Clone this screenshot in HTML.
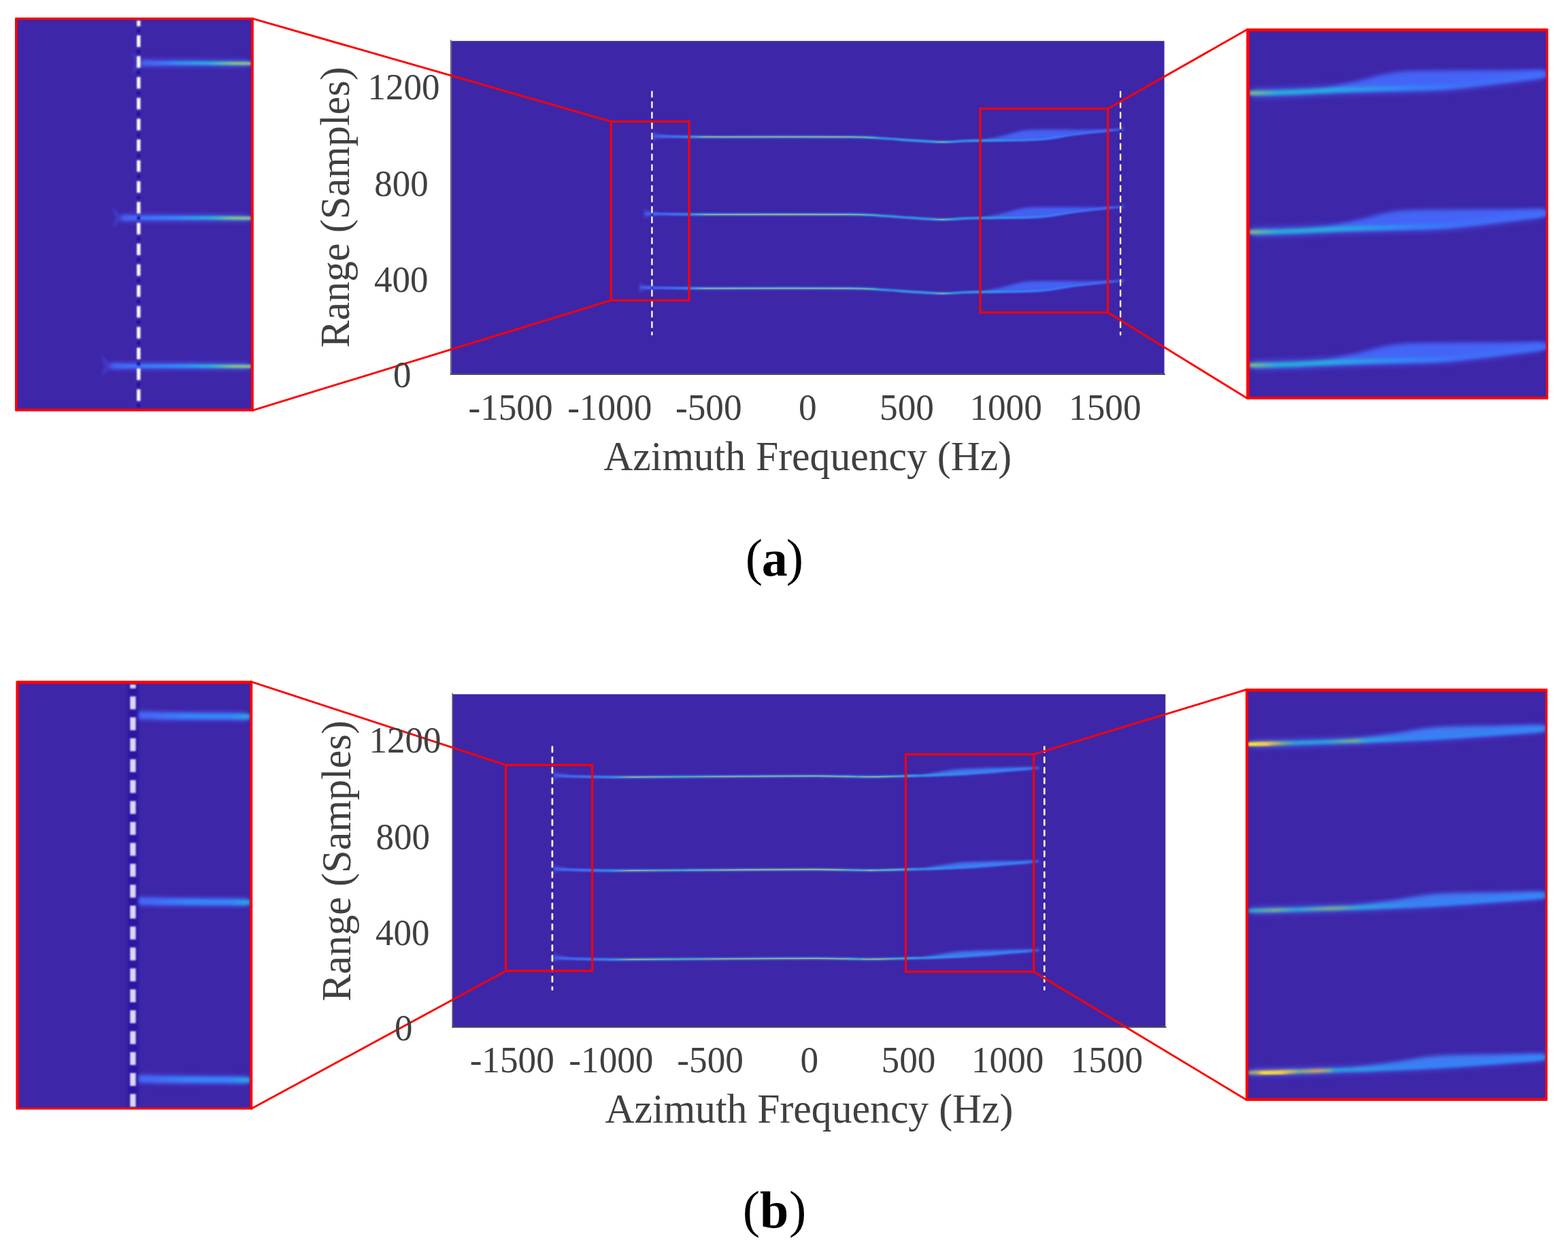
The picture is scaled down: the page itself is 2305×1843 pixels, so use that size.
<!DOCTYPE html>
<html lang="en"><head><meta charset="utf-8"><title>Figure</title>
<style>
html,body{margin:0;padding:0;background:#fff;}
body{width:2305px;height:1843px;overflow:hidden;}
svg{display:block;}
text{font-family:"Liberation Serif","DejaVu Serif",serif;}
.t{font-size:53.2px;fill:#404040;}
.l{font-size:59.7px;fill:#404040;}
.y{font-size:53px;fill:#404040;}
.c{font-size:76px;fill:#000;}
</style></head><body>
<svg xmlns="http://www.w3.org/2000/svg" width="2305" height="1843" viewBox="0 0 2305 1843">
<defs>
<filter id="b05" filterUnits="userSpaceOnUse" x="0" y="0" width="2305" height="1843"><feGaussianBlur stdDeviation="0.5"/></filter>
<filter id="b08" filterUnits="userSpaceOnUse" x="0" y="0" width="2305" height="1843"><feGaussianBlur stdDeviation="0.8"/></filter>
<filter id="b1" filterUnits="userSpaceOnUse" x="0" y="0" width="2305" height="1843"><feGaussianBlur stdDeviation="1.0"/></filter>
<filter id="b12" filterUnits="userSpaceOnUse" x="0" y="0" width="2305" height="1843"><feGaussianBlur stdDeviation="1.2"/></filter>
<filter id="b15" filterUnits="userSpaceOnUse" x="0" y="0" width="2305" height="1843"><feGaussianBlur stdDeviation="1.5"/></filter>
<filter id="b2" filterUnits="userSpaceOnUse" x="0" y="0" width="2305" height="1843"><feGaussianBlur stdDeviation="2.0"/></filter>
<filter id="b3" filterUnits="userSpaceOnUse" x="0" y="0" width="2305" height="1843"><feGaussianBlur stdDeviation="3.0"/></filter>
<filter id="b4" filterUnits="userSpaceOnUse" x="0" y="0" width="2305" height="1843"><feGaussianBlur stdDeviation="4.0"/></filter>
<clipPath id="cma"><rect x="663.5" y="60.2" width="1048.1" height="489.2" /></clipPath>
<linearGradient id="g1" gradientUnits="userSpaceOnUse" x1="960" y1="0" x2="1652" y2="0"><stop offset="0" stop-color="#4a66f8" stop-opacity="0"/><stop offset="0.02" stop-color="#4a66f8" stop-opacity="1"/><stop offset="0.97" stop-color="#4a66f8" stop-opacity="1"/><stop offset="1" stop-color="#4a66f8" stop-opacity="0"/></linearGradient>
<linearGradient id="g2" gradientUnits="userSpaceOnUse" x1="960" y1="0" x2="1652" y2="0"><stop offset="0" stop-color="#3f6ef8" stop-opacity="0.5"/><stop offset="0.022" stop-color="#3f6ef8"/><stop offset="0.058" stop-color="#2f8cf7"/><stop offset="0.094" stop-color="#22b4d8"/><stop offset="0.491" stop-color="#22b4d8"/><stop offset="0.708" stop-color="#22b4d8"/><stop offset="0.824" stop-color="#2f8cf7"/><stop offset="0.925" stop-color="#3f6ef8"/><stop offset="1" stop-color="#3f6ef8" stop-opacity="0.5"/></linearGradient>
<linearGradient id="g3" gradientUnits="userSpaceOnUse" x1="960" y1="0" x2="1652" y2="0"><stop offset="0" stop-color="#f0b94a" stop-opacity="0"/><stop offset="0.079" stop-color="#f0b94a" stop-opacity="0"/><stop offset="0.116" stop-color="#f0b94a" stop-opacity="1"/><stop offset="0.405" stop-color="#f0b94a" stop-opacity="1"/><stop offset="0.455" stop-color="#7fc77c" stop-opacity="1"/><stop offset="0.491" stop-color="#7fc77c" stop-opacity="0"/><stop offset="0.585" stop-color="#7fc77c" stop-opacity="0"/><stop offset="0.614" stop-color="#f0b94a" stop-opacity="0.9"/><stop offset="0.643" stop-color="#7fc77c" stop-opacity="0"/><stop offset="1" stop-color="#7fc77c" stop-opacity="0"/></linearGradient>
<linearGradient id="g4" gradientUnits="userSpaceOnUse" x1="948" y1="0" x2="1652" y2="0"><stop offset="0" stop-color="#4a66f8" stop-opacity="0"/><stop offset="0.02" stop-color="#4a66f8" stop-opacity="1"/><stop offset="0.97" stop-color="#4a66f8" stop-opacity="1"/><stop offset="1" stop-color="#4a66f8" stop-opacity="0"/></linearGradient>
<linearGradient id="g5" gradientUnits="userSpaceOnUse" x1="948" y1="0" x2="1652" y2="0"><stop offset="0" stop-color="#3f6ef8" stop-opacity="0.5"/><stop offset="0.038" stop-color="#3f6ef8"/><stop offset="0.074" stop-color="#2f8cf7"/><stop offset="0.109" stop-color="#22b4d8"/><stop offset="0.5" stop-color="#22b4d8"/><stop offset="0.713" stop-color="#22b4d8"/><stop offset="0.827" stop-color="#2f8cf7"/><stop offset="0.926" stop-color="#3f6ef8"/><stop offset="1" stop-color="#3f6ef8" stop-opacity="0.5"/></linearGradient>
<linearGradient id="g6" gradientUnits="userSpaceOnUse" x1="948" y1="0" x2="1652" y2="0"><stop offset="0" stop-color="#f0b94a" stop-opacity="0"/><stop offset="0.095" stop-color="#f0b94a" stop-opacity="0"/><stop offset="0.131" stop-color="#f0b94a" stop-opacity="1"/><stop offset="0.415" stop-color="#f0b94a" stop-opacity="1"/><stop offset="0.464" stop-color="#7fc77c" stop-opacity="1"/><stop offset="0.5" stop-color="#7fc77c" stop-opacity="0"/><stop offset="0.592" stop-color="#7fc77c" stop-opacity="0"/><stop offset="0.621" stop-color="#f0b94a" stop-opacity="0.9"/><stop offset="0.649" stop-color="#7fc77c" stop-opacity="0"/><stop offset="1" stop-color="#7fc77c" stop-opacity="0"/></linearGradient>
<linearGradient id="g7" gradientUnits="userSpaceOnUse" x1="941" y1="0" x2="1652" y2="0"><stop offset="0" stop-color="#4a66f8" stop-opacity="0"/><stop offset="0.02" stop-color="#4a66f8" stop-opacity="1"/><stop offset="0.97" stop-color="#4a66f8" stop-opacity="1"/><stop offset="1" stop-color="#4a66f8" stop-opacity="0"/></linearGradient>
<linearGradient id="g8" gradientUnits="userSpaceOnUse" x1="941" y1="0" x2="1652" y2="0"><stop offset="0" stop-color="#3f6ef8" stop-opacity="0.5"/><stop offset="0.048" stop-color="#3f6ef8"/><stop offset="0.083" stop-color="#2f8cf7"/><stop offset="0.118" stop-color="#22b4d8"/><stop offset="0.505" stop-color="#22b4d8"/><stop offset="0.716" stop-color="#22b4d8"/><stop offset="0.828" stop-color="#2f8cf7"/><stop offset="0.927" stop-color="#3f6ef8"/><stop offset="1" stop-color="#3f6ef8" stop-opacity="0.5"/></linearGradient>
<linearGradient id="g9" gradientUnits="userSpaceOnUse" x1="941" y1="0" x2="1652" y2="0"><stop offset="0" stop-color="#f0b94a" stop-opacity="0"/><stop offset="0.104" stop-color="#f0b94a" stop-opacity="0"/><stop offset="0.139" stop-color="#f0b94a" stop-opacity="1"/><stop offset="0.421" stop-color="#f0b94a" stop-opacity="1"/><stop offset="0.47" stop-color="#7fc77c" stop-opacity="1"/><stop offset="0.505" stop-color="#7fc77c" stop-opacity="0"/><stop offset="0.596" stop-color="#7fc77c" stop-opacity="0"/><stop offset="0.624" stop-color="#f0b94a" stop-opacity="0.9"/><stop offset="0.653" stop-color="#7fc77c" stop-opacity="0"/><stop offset="1" stop-color="#7fc77c" stop-opacity="0"/></linearGradient>
<clipPath id="clinseta"><rect x="25.8" y="29.2" width="343.2" height="571.5" /></clipPath>
<linearGradient id="g10" gradientUnits="userSpaceOnUse" x1="207" y1="0" x2="369" y2="0"><stop offset="0" stop-color="#4a66f8" stop-opacity="0"/><stop offset="0.02" stop-color="#4a66f8" stop-opacity="1"/><stop offset="0.97" stop-color="#4a66f8" stop-opacity="1"/><stop offset="1" stop-color="#4a66f8" stop-opacity="0"/></linearGradient>
<linearGradient id="g11" gradientUnits="userSpaceOnUse" x1="207" y1="0" x2="369" y2="0"><stop offset="0" stop-color="#3f6ef8" stop-opacity="0.3"/><stop offset="0.154" stop-color="#3f6ef8"/><stop offset="0.321" stop-color="#2f8cf7"/><stop offset="0.63" stop-color="#22b4d8"/><stop offset="0.846" stop-color="#7fc77c"/><stop offset="1" stop-color="#86c190"/></linearGradient>
<linearGradient id="g12" gradientUnits="userSpaceOnUse" x1="178" y1="0" x2="369" y2="0"><stop offset="0" stop-color="#4a66f8" stop-opacity="0"/><stop offset="0.02" stop-color="#4a66f8" stop-opacity="1"/><stop offset="0.97" stop-color="#4a66f8" stop-opacity="1"/><stop offset="1" stop-color="#4a66f8" stop-opacity="0"/></linearGradient>
<linearGradient id="g13" gradientUnits="userSpaceOnUse" x1="178" y1="0" x2="369" y2="0"><stop offset="0" stop-color="#3f6ef8" stop-opacity="0.3"/><stop offset="0.131" stop-color="#3f6ef8"/><stop offset="0.424" stop-color="#2f8cf7"/><stop offset="0.686" stop-color="#22b4d8"/><stop offset="0.869" stop-color="#7fc77c"/><stop offset="1" stop-color="#86c190"/></linearGradient>
<linearGradient id="g14" gradientUnits="userSpaceOnUse" x1="162" y1="0" x2="369" y2="0"><stop offset="0" stop-color="#4a66f8" stop-opacity="0"/><stop offset="0.02" stop-color="#4a66f8" stop-opacity="1"/><stop offset="0.97" stop-color="#4a66f8" stop-opacity="1"/><stop offset="1" stop-color="#4a66f8" stop-opacity="0"/></linearGradient>
<linearGradient id="g15" gradientUnits="userSpaceOnUse" x1="162" y1="0" x2="369" y2="0"><stop offset="0" stop-color="#3f6ef8" stop-opacity="0.3"/><stop offset="0.121" stop-color="#3f6ef8"/><stop offset="0.469" stop-color="#2f8cf7"/><stop offset="0.71" stop-color="#22b4d8"/><stop offset="0.879" stop-color="#7fc77c"/><stop offset="1" stop-color="#86c190"/></linearGradient>
<clipPath id="crinseta"><rect x="1836.8" y="46.2" width="435.8" height="536.8" /></clipPath>
<linearGradient id="g16" gradientUnits="userSpaceOnUse" x1="1836.8" y1="0" x2="2272.6" y2="0"><stop offset="0" stop-color="#4a66f8" stop-opacity="0"/><stop offset="0.02" stop-color="#4a66f8" stop-opacity="1"/><stop offset="0.97" stop-color="#4a66f8" stop-opacity="1"/><stop offset="1" stop-color="#4a66f8" stop-opacity="0"/></linearGradient>
<linearGradient id="g17" gradientUnits="userSpaceOnUse" x1="1836.8" y1="0" x2="2272.6" y2="0"><stop offset="0" stop-color="#7fc77c"/><stop offset="0.092" stop-color="#22b4d8"/><stop offset="0.283" stop-color="#22b4d8"/><stop offset="0.512" stop-color="#2f8cf7"/><stop offset="0.719" stop-color="#3f6ef8"/><stop offset="1" stop-color="#3f6ef8"/></linearGradient>
<linearGradient id="g18" gradientUnits="userSpaceOnUse" x1="1836.8" y1="0" x2="2272.6" y2="0"><stop offset="0" stop-color="#4a66f8" stop-opacity="0"/><stop offset="0.02" stop-color="#4a66f8" stop-opacity="1"/><stop offset="0.97" stop-color="#4a66f8" stop-opacity="1"/><stop offset="1" stop-color="#4a66f8" stop-opacity="0"/></linearGradient>
<linearGradient id="g19" gradientUnits="userSpaceOnUse" x1="1836.8" y1="0" x2="2272.6" y2="0"><stop offset="0" stop-color="#7fc77c"/><stop offset="0.092" stop-color="#22b4d8"/><stop offset="0.283" stop-color="#22b4d8"/><stop offset="0.512" stop-color="#2f8cf7"/><stop offset="0.719" stop-color="#3f6ef8"/><stop offset="1" stop-color="#3f6ef8"/></linearGradient>
<linearGradient id="g20" gradientUnits="userSpaceOnUse" x1="1836.8" y1="0" x2="2272.6" y2="0"><stop offset="0" stop-color="#4a66f8" stop-opacity="0"/><stop offset="0.02" stop-color="#4a66f8" stop-opacity="1"/><stop offset="0.97" stop-color="#4a66f8" stop-opacity="1"/><stop offset="1" stop-color="#4a66f8" stop-opacity="0"/></linearGradient>
<linearGradient id="g21" gradientUnits="userSpaceOnUse" x1="1836.8" y1="0" x2="2272.6" y2="0"><stop offset="0" stop-color="#7fc77c"/><stop offset="0.092" stop-color="#22b4d8"/><stop offset="0.283" stop-color="#22b4d8"/><stop offset="0.512" stop-color="#2f8cf7"/><stop offset="0.719" stop-color="#3f6ef8"/><stop offset="1" stop-color="#3f6ef8"/></linearGradient>
<clipPath id="cmb"><rect x="666" y="1020.3" width="1047.3" height="488.6" /></clipPath>
<linearGradient id="g22" gradientUnits="userSpaceOnUse" x1="814" y1="0" x2="1527" y2="0"><stop offset="0" stop-color="#4a66f8" stop-opacity="0"/><stop offset="0.02" stop-color="#4a66f8" stop-opacity="1"/><stop offset="0.97" stop-color="#4a66f8" stop-opacity="1"/><stop offset="1" stop-color="#4a66f8" stop-opacity="0"/></linearGradient>
<linearGradient id="g23" gradientUnits="userSpaceOnUse" x1="814" y1="0" x2="1527" y2="0"><stop offset="0" stop-color="#3f6ef8" stop-opacity="0.5"/><stop offset="0.022" stop-color="#3f6ef8"/><stop offset="0.079" stop-color="#2f8cf7"/><stop offset="0.128" stop-color="#22b4d8"/><stop offset="0.766" stop-color="#22b4d8"/><stop offset="0.85" stop-color="#2f8cf7"/><stop offset="1" stop-color="#2f8cf7" stop-opacity="0.7"/></linearGradient>
<linearGradient id="g24" gradientUnits="userSpaceOnUse" x1="814" y1="0" x2="1527" y2="0"><stop offset="0" stop-color="#f0b94a" stop-opacity="0"/><stop offset="0.121" stop-color="#f0b94a" stop-opacity="0"/><stop offset="0.163" stop-color="#f0b94a" stop-opacity="1"/><stop offset="0.261" stop-color="#7fc77c" stop-opacity="0.6"/><stop offset="0.345" stop-color="#f0b94a" stop-opacity="1"/><stop offset="0.583" stop-color="#f0b94a" stop-opacity="1"/><stop offset="0.628" stop-color="#7fc77c" stop-opacity="0.7"/><stop offset="0.654" stop-color="#f0b94a" stop-opacity="1"/><stop offset="0.71" stop-color="#7fc77c" stop-opacity="0.8"/><stop offset="0.752" stop-color="#7fc77c" stop-opacity="0"/><stop offset="1" stop-color="#7fc77c" stop-opacity="0"/></linearGradient>
<linearGradient id="g25" gradientUnits="userSpaceOnUse" x1="814" y1="0" x2="1527" y2="0"><stop offset="0" stop-color="#4a66f8" stop-opacity="0"/><stop offset="0.02" stop-color="#4a66f8" stop-opacity="1"/><stop offset="0.97" stop-color="#4a66f8" stop-opacity="1"/><stop offset="1" stop-color="#4a66f8" stop-opacity="0"/></linearGradient>
<linearGradient id="g26" gradientUnits="userSpaceOnUse" x1="814" y1="0" x2="1527" y2="0"><stop offset="0" stop-color="#3f6ef8" stop-opacity="0.5"/><stop offset="0.022" stop-color="#3f6ef8"/><stop offset="0.079" stop-color="#2f8cf7"/><stop offset="0.128" stop-color="#22b4d8"/><stop offset="0.766" stop-color="#22b4d8"/><stop offset="0.85" stop-color="#2f8cf7"/><stop offset="1" stop-color="#2f8cf7" stop-opacity="0.7"/></linearGradient>
<linearGradient id="g27" gradientUnits="userSpaceOnUse" x1="814" y1="0" x2="1527" y2="0"><stop offset="0" stop-color="#f0b94a" stop-opacity="0"/><stop offset="0.121" stop-color="#f0b94a" stop-opacity="0"/><stop offset="0.163" stop-color="#f0b94a" stop-opacity="1"/><stop offset="0.261" stop-color="#7fc77c" stop-opacity="0.6"/><stop offset="0.345" stop-color="#f0b94a" stop-opacity="1"/><stop offset="0.583" stop-color="#f0b94a" stop-opacity="1"/><stop offset="0.628" stop-color="#7fc77c" stop-opacity="0.7"/><stop offset="0.654" stop-color="#f0b94a" stop-opacity="1"/><stop offset="0.71" stop-color="#7fc77c" stop-opacity="0.8"/><stop offset="0.752" stop-color="#7fc77c" stop-opacity="0"/><stop offset="1" stop-color="#7fc77c" stop-opacity="0"/></linearGradient>
<linearGradient id="g28" gradientUnits="userSpaceOnUse" x1="814" y1="0" x2="1527" y2="0"><stop offset="0" stop-color="#4a66f8" stop-opacity="0"/><stop offset="0.02" stop-color="#4a66f8" stop-opacity="1"/><stop offset="0.97" stop-color="#4a66f8" stop-opacity="1"/><stop offset="1" stop-color="#4a66f8" stop-opacity="0"/></linearGradient>
<linearGradient id="g29" gradientUnits="userSpaceOnUse" x1="814" y1="0" x2="1527" y2="0"><stop offset="0" stop-color="#3f6ef8" stop-opacity="0.5"/><stop offset="0.022" stop-color="#3f6ef8"/><stop offset="0.079" stop-color="#2f8cf7"/><stop offset="0.128" stop-color="#22b4d8"/><stop offset="0.766" stop-color="#22b4d8"/><stop offset="0.85" stop-color="#2f8cf7"/><stop offset="1" stop-color="#2f8cf7" stop-opacity="0.7"/></linearGradient>
<linearGradient id="g30" gradientUnits="userSpaceOnUse" x1="814" y1="0" x2="1527" y2="0"><stop offset="0" stop-color="#f0b94a" stop-opacity="0"/><stop offset="0.121" stop-color="#f0b94a" stop-opacity="0"/><stop offset="0.163" stop-color="#f0b94a" stop-opacity="1"/><stop offset="0.261" stop-color="#7fc77c" stop-opacity="0.6"/><stop offset="0.345" stop-color="#f0b94a" stop-opacity="1"/><stop offset="0.583" stop-color="#f0b94a" stop-opacity="1"/><stop offset="0.628" stop-color="#7fc77c" stop-opacity="0.7"/><stop offset="0.654" stop-color="#f0b94a" stop-opacity="1"/><stop offset="0.71" stop-color="#7fc77c" stop-opacity="0.8"/><stop offset="0.752" stop-color="#7fc77c" stop-opacity="0"/><stop offset="1" stop-color="#7fc77c" stop-opacity="0"/></linearGradient>
<clipPath id="clinsetb"><rect x="27.8" y="1005.1" width="339.5" height="622.5" /></clipPath>
<linearGradient id="g31" gradientUnits="userSpaceOnUse" x1="200" y1="0" x2="367.3" y2="0"><stop offset="0" stop-color="#4a66f8" stop-opacity="0"/><stop offset="0.02" stop-color="#4a66f8" stop-opacity="1"/><stop offset="0.97" stop-color="#4a66f8" stop-opacity="1"/><stop offset="1" stop-color="#4a66f8" stop-opacity="0"/></linearGradient>
<linearGradient id="g32" gradientUnits="userSpaceOnUse" x1="200" y1="0" x2="367.3" y2="0"><stop offset="0" stop-color="#3f6ef8" stop-opacity="0.3"/><stop offset="0.179" stop-color="#3f6ef8"/><stop offset="0.462" stop-color="#2f8cf7"/><stop offset="0.821" stop-color="#2f8cf7"/><stop offset="1" stop-color="#22b4d8"/></linearGradient>
<linearGradient id="g33" gradientUnits="userSpaceOnUse" x1="200" y1="0" x2="367.3" y2="0"><stop offset="0" stop-color="#4a66f8" stop-opacity="0"/><stop offset="0.02" stop-color="#4a66f8" stop-opacity="1"/><stop offset="0.97" stop-color="#4a66f8" stop-opacity="1"/><stop offset="1" stop-color="#4a66f8" stop-opacity="0"/></linearGradient>
<linearGradient id="g34" gradientUnits="userSpaceOnUse" x1="200" y1="0" x2="367.3" y2="0"><stop offset="0" stop-color="#3f6ef8" stop-opacity="0.3"/><stop offset="0.179" stop-color="#3f6ef8"/><stop offset="0.462" stop-color="#2f8cf7"/><stop offset="0.821" stop-color="#2f8cf7"/><stop offset="1" stop-color="#22b4d8"/></linearGradient>
<linearGradient id="g35" gradientUnits="userSpaceOnUse" x1="200" y1="0" x2="367.3" y2="0"><stop offset="0" stop-color="#4a66f8" stop-opacity="0"/><stop offset="0.02" stop-color="#4a66f8" stop-opacity="1"/><stop offset="0.97" stop-color="#4a66f8" stop-opacity="1"/><stop offset="1" stop-color="#4a66f8" stop-opacity="0"/></linearGradient>
<linearGradient id="g36" gradientUnits="userSpaceOnUse" x1="200" y1="0" x2="367.3" y2="0"><stop offset="0" stop-color="#3f6ef8" stop-opacity="0.3"/><stop offset="0.179" stop-color="#3f6ef8"/><stop offset="0.462" stop-color="#2f8cf7"/><stop offset="0.821" stop-color="#2f8cf7"/><stop offset="1" stop-color="#22b4d8"/></linearGradient>
<clipPath id="crinsetb"><rect x="1835.1" y="1016.7" width="436.5" height="597" /></clipPath>
<linearGradient id="g37" gradientUnits="userSpaceOnUse" x1="1835.1" y1="0" x2="2271.6" y2="0"><stop offset="0" stop-color="#4a66f8" stop-opacity="0"/><stop offset="0.02" stop-color="#4a66f8" stop-opacity="1"/><stop offset="0.97" stop-color="#4a66f8" stop-opacity="1"/><stop offset="1" stop-color="#4a66f8" stop-opacity="0"/></linearGradient>
<linearGradient id="g38" gradientUnits="userSpaceOnUse" x1="1835.1" y1="0" x2="2271.6" y2="0"><stop offset="0" stop-color="#f5e03a"/><stop offset="0.08" stop-color="#f5e03a"/><stop offset="0.115" stop-color="#7fc77c"/><stop offset="0.16" stop-color="#22b4d8"/><stop offset="0.263" stop-color="#22b4d8"/><stop offset="0.355" stop-color="#7fc77c"/><stop offset="0.401" stop-color="#22b4d8"/><stop offset="0.561" stop-color="#2f8cf7"/><stop offset="0.836" stop-color="#2f8cf7"/><stop offset="1" stop-color="#2f8cf7"/></linearGradient>
<linearGradient id="g39" gradientUnits="userSpaceOnUse" x1="1835.1" y1="0" x2="1871.1" y2="0"><stop offset="0" stop-color="#f6e13a" stop-opacity="1"/><stop offset="0.2" stop-color="#f6e13a" stop-opacity="1"/><stop offset="0.75" stop-color="#f3c94a" stop-opacity="1"/><stop offset="1" stop-color="#f0b94a" stop-opacity="0"/></linearGradient>
<linearGradient id="g40" gradientUnits="userSpaceOnUse" x1="1835.1" y1="0" x2="2271.6" y2="0"><stop offset="0" stop-color="#4a66f8" stop-opacity="0"/><stop offset="0.02" stop-color="#4a66f8" stop-opacity="1"/><stop offset="0.97" stop-color="#4a66f8" stop-opacity="1"/><stop offset="1" stop-color="#4a66f8" stop-opacity="0"/></linearGradient>
<linearGradient id="g41" gradientUnits="userSpaceOnUse" x1="1835.1" y1="0" x2="2271.6" y2="0"><stop offset="0" stop-color="#22b4d8"/><stop offset="0.092" stop-color="#7fc77c"/><stop offset="0.16" stop-color="#22b4d8"/><stop offset="0.286" stop-color="#7fc77c"/><stop offset="0.378" stop-color="#22b4d8"/><stop offset="0.561" stop-color="#2f8cf7"/><stop offset="0.836" stop-color="#2f8cf7"/><stop offset="1" stop-color="#2f8cf7"/></linearGradient>
<linearGradient id="g42" gradientUnits="userSpaceOnUse" x1="1835.1" y1="0" x2="2271.6" y2="0"><stop offset="0" stop-color="#4a66f8" stop-opacity="0"/><stop offset="0.02" stop-color="#4a66f8" stop-opacity="1"/><stop offset="0.97" stop-color="#4a66f8" stop-opacity="1"/><stop offset="1" stop-color="#4a66f8" stop-opacity="0"/></linearGradient>
<linearGradient id="g43" gradientUnits="userSpaceOnUse" x1="1835.1" y1="0" x2="2271.6" y2="0"><stop offset="0" stop-color="#7fc77c"/><stop offset="0.034" stop-color="#f0b94a"/><stop offset="0.137" stop-color="#f5e03a"/><stop offset="0.172" stop-color="#7fc77c"/><stop offset="0.229" stop-color="#f0b94a"/><stop offset="0.275" stop-color="#7fc77c"/><stop offset="0.286" stop-color="#22b4d8"/><stop offset="0.561" stop-color="#2f8cf7"/><stop offset="0.836" stop-color="#2f8cf7"/><stop offset="1" stop-color="#2f8cf7"/></linearGradient>
<linearGradient id="g44" gradientUnits="userSpaceOnUse" x1="1847.1" y1="0" x2="1897.1" y2="0"><stop offset="0" stop-color="#f6e13a" stop-opacity="0"/><stop offset="0.2" stop-color="#f6e13a" stop-opacity="1"/><stop offset="0.75" stop-color="#f3c94a" stop-opacity="1"/><stop offset="1" stop-color="#f0b94a" stop-opacity="0"/></linearGradient>
</defs>
<rect width="2305" height="1843" fill="#fff"/>
<g id="panel-a">
<rect x="663.5" y="60.2" width="1048.1" height="489.2" fill="#3E26A8"/>
<g clip-path="url(#cma)">
<path d="M959 193.2 C960.3 193.8 963 196 966.7 197 C970.4 198.1 978.6 199 981 199.4 L981 201 C978.6 201.4 970.4 202.3 966.7 203.3 C963 204.4 960.3 206.6 959 207.2 Z" fill="#4a62f4" opacity="0.6" filter="url(#b2)"/>
<path d="M960 200.2 C966.7 200.3 983.3 200.8 1000 201 C1016.7 201.2 1018.3 201.2 1060 201.3 C1101.7 201.4 1210 200.9 1250 201.3 C1290 201.7 1285 202.7 1300 203.5 C1315 204.3 1325.8 205.4 1340 206.3 C1354.2 207.2 1371.7 208.6 1385 208.7 C1398.3 208.8 1409.2 207.4 1420 207 C1430.8 206.6 1432 206.7 1450 206.3 C1468 205.9 1506.3 206.1 1528 204.5 C1549.7 202.9 1563 199.2 1580 197 C1597 194.8 1618 192.8 1630 191.6 C1642 190.4 1648.3 190.1 1652 189.8" fill="none" stroke="url(#g1)" stroke-width="3.2" filter="url(#b15)" opacity="0.9"/>
<path d="M1450 205 C1455 203.8 1470 200.3 1480 198 C1490 195.7 1496.7 192.6 1510 191.3 C1523.3 190.1 1545 190.6 1560 190.5 C1575 190.4 1588.3 190.7 1600 190.8 C1611.7 190.9 1625 191 1630 191 L1630 192.2 C1625.8 192.5 1614.2 193 1605 194 C1595.8 195 1587.8 196.2 1575 198 C1562.2 199.8 1548.8 203.6 1528 205 C1507.2 206.4 1463 206.2 1450 206.5 Z" fill="#4468fa" filter="url(#b2)" opacity="0.9"/>
<path d="M960 200.2 C966.7 200.3 983.3 200.8 1000 201 C1016.7 201.2 1018.3 201.2 1060 201.3 C1101.7 201.4 1210 200.9 1250 201.3 C1290 201.7 1285 202.7 1300 203.5 C1315 204.3 1325.8 205.4 1340 206.3 C1354.2 207.2 1371.7 208.6 1385 208.7 C1398.3 208.8 1409.2 207.4 1420 207 C1430.8 206.6 1432 206.7 1450 206.3 C1468 205.9 1506.3 206.1 1528 204.5 C1549.7 202.9 1563 199.2 1580 197 C1597 194.8 1618 192.8 1630 191.6 C1642 190.4 1648.3 190.1 1652 189.8" fill="none" stroke="url(#g2)" stroke-width="2.2" filter="url(#b08)"/>
<path d="M960 200.2 C966.7 200.3 983.3 200.8 1000 201 C1016.7 201.2 1018.3 201.2 1060 201.3 C1101.7 201.4 1210 200.9 1250 201.3 C1290 201.7 1285 202.7 1300 203.5 C1315 204.3 1325.8 205.4 1340 206.3 C1354.2 207.2 1371.7 208.6 1385 208.7 C1398.3 208.8 1409.2 207.4 1420 207 C1430.8 206.6 1432 206.7 1450 206.3 C1468 205.9 1506.3 206.1 1528 204.5 C1549.7 202.9 1563 199.2 1580 197 C1597 194.8 1618 192.8 1630 191.6 C1642 190.4 1648.3 190.1 1652 189.8" fill="none" stroke="url(#g3)" stroke-width="1.1" filter="url(#b05)"/>
<path d="M1652 184.5 C1651.4 185 1650.2 186.6 1648.5 187.2 C1646.8 187.9 1643.1 188.5 1642 188.7 L1642 190.3 C1643.1 190.5 1646.8 191.1 1648.5 191.8 C1650.2 192.4 1651.4 194 1652 194.5 Z" fill="#4a62f4" opacity="0.4" filter="url(#b2)"/>
<path d="M947 307.1 C948.3 307.7 951 309.9 954.7 311 C958.4 312 966.6 312.9 969 313.3 L969 314.9 C966.6 315.3 958.4 316.2 954.7 317.2 C951 318.3 948.3 320.5 947 321.1 Z" fill="#4a62f4" opacity="0.6" filter="url(#b2)"/>
<path d="M948 314.1 C956.7 314.2 981.3 314.7 1000 314.9 C1018.7 315.1 1018.3 315.2 1060 315.2 C1101.7 315.3 1210 314.8 1250 315.2 C1290 315.6 1285 316.6 1300 317.4 C1315 318.2 1325.8 319.3 1340 320.2 C1354.2 321.1 1371.7 322.5 1385 322.6 C1398.3 322.7 1409.2 321.3 1420 320.9 C1430.8 320.5 1432 320.6 1450 320.2 C1468 319.8 1506.3 319.9 1528 318.4 C1549.7 316.8 1563 313 1580 310.9 C1597 308.8 1618 306.7 1630 305.5 C1642 304.3 1648.3 304 1652 303.7" fill="none" stroke="url(#g4)" stroke-width="3.2" filter="url(#b15)" opacity="0.9"/>
<path d="M1450 318.9 C1455 317.7 1470 314.2 1480 311.9 C1490 309.6 1496.7 306.5 1510 305.2 C1523.3 304 1545 304.5 1560 304.4 C1575 304.3 1588.3 304.6 1600 304.7 C1611.7 304.8 1625 304.9 1630 304.9 L1630 306.1 C1625.8 306.4 1614.2 306.9 1605 307.9 C1595.8 308.9 1587.8 310.1 1575 311.9 C1562.2 313.7 1548.8 317.5 1528 318.9 C1507.2 320.3 1463 320.1 1450 320.4 Z" fill="#4468fa" filter="url(#b2)" opacity="0.9"/>
<path d="M948 314.1 C956.7 314.2 981.3 314.7 1000 314.9 C1018.7 315.1 1018.3 315.2 1060 315.2 C1101.7 315.3 1210 314.8 1250 315.2 C1290 315.6 1285 316.6 1300 317.4 C1315 318.2 1325.8 319.3 1340 320.2 C1354.2 321.1 1371.7 322.5 1385 322.6 C1398.3 322.7 1409.2 321.3 1420 320.9 C1430.8 320.5 1432 320.6 1450 320.2 C1468 319.8 1506.3 319.9 1528 318.4 C1549.7 316.8 1563 313 1580 310.9 C1597 308.8 1618 306.7 1630 305.5 C1642 304.3 1648.3 304 1652 303.7" fill="none" stroke="url(#g5)" stroke-width="2.2" filter="url(#b08)"/>
<path d="M948 314.1 C956.7 314.2 981.3 314.7 1000 314.9 C1018.7 315.1 1018.3 315.2 1060 315.2 C1101.7 315.3 1210 314.8 1250 315.2 C1290 315.6 1285 316.6 1300 317.4 C1315 318.2 1325.8 319.3 1340 320.2 C1354.2 321.1 1371.7 322.5 1385 322.6 C1398.3 322.7 1409.2 321.3 1420 320.9 C1430.8 320.5 1432 320.6 1450 320.2 C1468 319.8 1506.3 319.9 1528 318.4 C1549.7 316.8 1563 313 1580 310.9 C1597 308.8 1618 306.7 1630 305.5 C1642 304.3 1648.3 304 1652 303.7" fill="none" stroke="url(#g6)" stroke-width="1.1" filter="url(#b05)"/>
<path d="M1652 298.4 C1651.4 298.9 1650.2 300.5 1648.5 301.2 C1646.8 301.9 1643.1 302.4 1642 302.6 L1642 304.2 C1643.1 304.4 1646.8 305 1648.5 305.7 C1650.2 306.4 1651.4 307.9 1652 308.4 Z" fill="#4a62f4" opacity="0.4" filter="url(#b2)"/>
<path d="M940 415.7 C941.3 416.3 944 418.5 947.7 419.6 C951.4 420.6 959.6 421.5 962 421.9 L962 423.5 C959.6 423.9 951.4 424.8 947.7 425.8 C944 426.9 941.3 429.1 940 429.7 Z" fill="#4a62f4" opacity="0.6" filter="url(#b2)"/>
<path d="M941 422.7 C950.8 422.8 980.2 423.3 1000 423.5 C1019.8 423.7 1018.3 423.8 1060 423.8 C1101.7 423.9 1210 423.4 1250 423.8 C1290 424.2 1285 425.2 1300 426 C1315 426.8 1325.8 427.9 1340 428.8 C1354.2 429.7 1371.7 431.1 1385 431.2 C1398.3 431.3 1409.2 429.9 1420 429.5 C1430.8 429.1 1432 429.2 1450 428.8 C1468 428.4 1506.3 428.6 1528 427 C1549.7 425.4 1563 421.6 1580 419.5 C1597 417.4 1618 415.3 1630 414.1 C1642 412.9 1648.3 412.6 1652 412.3" fill="none" stroke="url(#g7)" stroke-width="3.2" filter="url(#b15)" opacity="0.9"/>
<path d="M1450 427.5 C1455 426.3 1470 422.8 1480 420.5 C1490 418.2 1496.7 415.1 1510 413.8 C1523.3 412.6 1545 413.1 1560 413 C1575 412.9 1588.3 413.2 1600 413.3 C1611.7 413.4 1625 413.5 1630 413.5 L1630 414.7 C1625.8 415 1614.2 415.5 1605 416.5 C1595.8 417.5 1587.8 418.7 1575 420.5 C1562.2 422.3 1548.8 426.1 1528 427.5 C1507.2 428.9 1463 428.8 1450 429 Z" fill="#4468fa" filter="url(#b2)" opacity="0.9"/>
<path d="M941 422.7 C950.8 422.8 980.2 423.3 1000 423.5 C1019.8 423.7 1018.3 423.8 1060 423.8 C1101.7 423.9 1210 423.4 1250 423.8 C1290 424.2 1285 425.2 1300 426 C1315 426.8 1325.8 427.9 1340 428.8 C1354.2 429.7 1371.7 431.1 1385 431.2 C1398.3 431.3 1409.2 429.9 1420 429.5 C1430.8 429.1 1432 429.2 1450 428.8 C1468 428.4 1506.3 428.6 1528 427 C1549.7 425.4 1563 421.6 1580 419.5 C1597 417.4 1618 415.3 1630 414.1 C1642 412.9 1648.3 412.6 1652 412.3" fill="none" stroke="url(#g8)" stroke-width="2.2" filter="url(#b08)"/>
<path d="M941 422.7 C950.8 422.8 980.2 423.3 1000 423.5 C1019.8 423.7 1018.3 423.8 1060 423.8 C1101.7 423.9 1210 423.4 1250 423.8 C1290 424.2 1285 425.2 1300 426 C1315 426.8 1325.8 427.9 1340 428.8 C1354.2 429.7 1371.7 431.1 1385 431.2 C1398.3 431.3 1409.2 429.9 1420 429.5 C1430.8 429.1 1432 429.2 1450 428.8 C1468 428.4 1506.3 428.6 1528 427 C1549.7 425.4 1563 421.6 1580 419.5 C1597 417.4 1618 415.3 1630 414.1 C1642 412.9 1648.3 412.6 1652 412.3" fill="none" stroke="url(#g9)" stroke-width="1.1" filter="url(#b05)"/>
<path d="M1652 407 C1651.4 407.5 1650.2 409.1 1648.5 409.8 C1646.8 410.4 1643.1 411 1642 411.2 L1642 412.8 C1643.1 413 1646.8 413.6 1648.5 414.2 C1650.2 414.9 1651.4 416.5 1652 417 Z" fill="#4a62f4" opacity="0.4" filter="url(#b2)"/>
</g>
<line x1="662.7" y1="58.6" x2="662.7" y2="550.4" stroke="#5b5b66" stroke-width="1.6"/>
<line x1="661.9" y1="550.2" x2="1713" y2="550.2" stroke="#3f3f46" stroke-width="1.8"/>
<line x1="958.4" y1="134.6" x2="958.4" y2="491.8" stroke="#1f0f9c" stroke-width="2.4" stroke-dasharray="2.4 12.99" stroke-dashoffset="-10.39" filter="url(#b05)" opacity="0.6"/>
<line x1="958.4" y1="134.6" x2="958.4" y2="491.8" stroke="#fbfaff" stroke-width="2.4" stroke-linecap="round" stroke-dasharray="7.79 7.6" filter="url(#b05)"/>
<line x1="1647.1" y1="134.6" x2="1647.1" y2="491.8" stroke="#1f0f9c" stroke-width="2.4" stroke-dasharray="2.4 12.99" stroke-dashoffset="-10.39" filter="url(#b05)" opacity="0.6"/>
<line x1="1647.1" y1="134.6" x2="1647.1" y2="491.8" stroke="#fbfaff" stroke-width="2.4" stroke-linecap="round" stroke-dasharray="7.79 7.6" filter="url(#b05)"/>
<rect x="898.3" y="178.7" width="114.7" height="262.7" fill="none" stroke="#FF0000" stroke-width="3.1"/>
<rect x="1441" y="159.7" width="187.6" height="299.5" fill="none" stroke="#FF0000" stroke-width="3.1"/>
<rect x="22" y="25.8" width="350.9" height="578.8" fill="#FF0000" rx="1.5"/>
<rect x="25.8" y="29.2" width="343.2" height="571.5" fill="#3E26A8"/>
<g clip-path="url(#clinseta)">
<path d="M237.8 91.3 L204.2 86.8 L193 75.8 L199.3 92.8 L193 109.8 L204.2 98.8 L237.8 94.3 Z" fill="#4a55ee" opacity="0.45" filter="url(#b2)"/>
<path d="M207 92.8 C220.7 92.8 262 92.7 289 92.8 C316 92.9 355.7 93.2 369 93.3" fill="none" stroke="url(#g10)" stroke-width="10" filter="url(#b3)" opacity="0.75"/>
<path d="M207 92.8 C220.7 92.8 262 92.7 289 92.8 C316 92.9 355.7 93.2 369 93.3" fill="none" stroke="url(#g11)" stroke-width="5" filter="url(#b15)"/>
<path d="M208.8 318.8 L175.2 314.4 L164 303.3 L170.3 320.3 L164 337.3 L175.2 326.2 L208.8 321.8 Z" fill="#4a55ee" opacity="0.45" filter="url(#b2)"/>
<path d="M178 320.3 C196.5 320.3 257.2 320.2 289 320.3 C320.8 320.4 355.7 320.7 369 320.8" fill="none" stroke="url(#g12)" stroke-width="10" filter="url(#b3)" opacity="0.75"/>
<path d="M178 320.3 C196.5 320.3 257.2 320.2 289 320.3 C320.8 320.4 355.7 320.7 369 320.8" fill="none" stroke="url(#g13)" stroke-width="5" filter="url(#b15)"/>
<path d="M192.8 536.6 L159.2 532.1 L148 521.1 L154.3 538.1 L148 555.1 L159.2 544.1 L192.8 539.6 Z" fill="#4a55ee" opacity="0.45" filter="url(#b2)"/>
<path d="M162 538.1 C183.2 538.1 254.5 538 289 538.1 C323.5 538.2 355.7 538.5 369 538.6" fill="none" stroke="url(#g14)" stroke-width="10" filter="url(#b3)" opacity="0.75"/>
<path d="M162 538.1 C183.2 538.1 254.5 538 289 538.1 C323.5 538.2 355.7 538.5 369 538.6" fill="none" stroke="url(#g15)" stroke-width="5" filter="url(#b15)"/>
<line x1="203.8" y1="30.2" x2="203.8" y2="600.7" stroke="#1d0f9c" stroke-width="4.5" stroke-dasharray="5 25.6" stroke-dashoffset="18.1" filter="url(#b1)"/>
<line x1="203.8" y1="30.2" x2="203.8" y2="600.7" stroke="#fbfaff" stroke-width="5.4" stroke-dasharray="17 13.6" stroke-dashoffset="8.8" filter="url(#b1)"/>
</g>
<rect x="1832.1" y="41.8" width="443.9" height="545.3" fill="#FF0000" rx="1.5"/>
<rect x="1836.8" y="46.2" width="435.8" height="536.8" fill="#3E26A8"/>
<g clip-path="url(#crinseta)">
<path d="M1836.8 136.8 C1847.3 136.6 1875.5 136.4 1900 135.5 C1924.5 134.6 1957.3 132.5 1984 131.5 C2010.7 130.5 2036.3 130.2 2060 129.5 C2083.7 128.8 2102.7 128.8 2126 127 C2149.3 125.2 2175.6 121.5 2200 118.5 C2224.4 115.5 2260.5 110.6 2272.6 109" fill="none" stroke="url(#g16)" stroke-width="13" filter="url(#b4)" opacity="0.75"/>
<path d="M1940 133 C1950 130.5 1980.5 122.6 2000 118 C2019.5 113.4 2032 107.9 2057 105.5 C2082 103.1 2114.1 103.9 2150 103.5 C2185.9 103.1 2252.2 103.1 2272.6 103 L2272.6 113 C2260.5 114.2 2224.4 117.9 2200 120.5 C2175.6 123.1 2149.3 126.8 2126 128.5 C2102.7 130.2 2091 129.9 2060 131 C2029 132.1 1960 134.3 1940 135 Z" fill="#4468fa" filter="url(#b3)" opacity="0.95"/>
<path d="M1836.8 136.8 C1847.3 136.6 1875.5 136.4 1900 135.5 C1924.5 134.6 1957.3 132.5 1984 131.5 C2010.7 130.5 2036.3 130.2 2060 129.5 C2083.7 128.8 2102.7 128.8 2126 127 C2149.3 125.2 2175.6 121.5 2200 118.5 C2224.4 115.5 2260.5 110.6 2272.6 109" fill="none" stroke="url(#g17)" stroke-width="6.5" filter="url(#b2)"/>
<path d="M1836.8 341.1 C1847.3 340.9 1875.5 340.7 1900 339.8 C1924.5 338.9 1957.3 336.8 1984 335.8 C2010.7 334.8 2036.3 334.6 2060 333.8 C2083.7 333.1 2102.7 333.1 2126 331.3 C2149.3 329.5 2175.6 325.8 2200 322.8 C2224.4 319.8 2260.5 314.9 2272.6 313.3" fill="none" stroke="url(#g18)" stroke-width="13" filter="url(#b4)" opacity="0.75"/>
<path d="M1940 337.3 C1950 334.8 1980.5 326.9 2000 322.3 C2019.5 317.7 2032 312.2 2057 309.8 C2082 307.4 2114.1 308.2 2150 307.8 C2185.9 307.4 2252.2 307.4 2272.6 307.3 L2272.6 317.3 C2260.5 318.6 2224.4 322.2 2200 324.8 C2175.6 327.4 2149.3 331.1 2126 332.8 C2102.7 334.6 2091 334.2 2060 335.3 C2029 336.4 1960 338.6 1940 339.3 Z" fill="#4468fa" filter="url(#b3)" opacity="0.95"/>
<path d="M1836.8 341.1 C1847.3 340.9 1875.5 340.7 1900 339.8 C1924.5 338.9 1957.3 336.8 1984 335.8 C2010.7 334.8 2036.3 334.6 2060 333.8 C2083.7 333.1 2102.7 333.1 2126 331.3 C2149.3 329.5 2175.6 325.8 2200 322.8 C2224.4 319.8 2260.5 314.9 2272.6 313.3" fill="none" stroke="url(#g19)" stroke-width="6.5" filter="url(#b2)"/>
<path d="M1836.8 536.8 C1847.3 536.6 1875.5 536.4 1900 535.5 C1924.5 534.6 1957.3 532.5 1984 531.5 C2010.7 530.5 2036.3 530.2 2060 529.5 C2083.7 528.8 2102.7 528.8 2126 527 C2149.3 525.2 2175.6 521.5 2200 518.5 C2224.4 515.5 2260.5 510.6 2272.6 509" fill="none" stroke="url(#g20)" stroke-width="13" filter="url(#b4)" opacity="0.75"/>
<path d="M1940 533 C1950 530.5 1980.5 522.6 2000 518 C2019.5 513.4 2032 507.9 2057 505.5 C2082 503.1 2114.1 503.9 2150 503.5 C2185.9 503.1 2252.2 503.1 2272.6 503 L2272.6 513 C2260.5 514.2 2224.4 517.9 2200 520.5 C2175.6 523.1 2149.3 526.8 2126 528.5 C2102.7 530.2 2091 529.9 2060 531 C2029 532.1 1960 534.3 1940 535 Z" fill="#4468fa" filter="url(#b3)" opacity="0.95"/>
<path d="M1836.8 536.8 C1847.3 536.6 1875.5 536.4 1900 535.5 C1924.5 534.6 1957.3 532.5 1984 531.5 C2010.7 530.5 2036.3 530.2 2060 529.5 C2083.7 528.8 2102.7 528.8 2126 527 C2149.3 525.2 2175.6 521.5 2200 518.5 C2224.4 515.5 2260.5 510.6 2272.6 509" fill="none" stroke="url(#g21)" stroke-width="6.5" filter="url(#b2)"/>
</g>
<line x1="371.4" y1="27.3" x2="898.3" y2="178.7" stroke="#FF0000" stroke-width="2.9" stroke-linecap="round"/>
<line x1="371.4" y1="603.1" x2="898.3" y2="441.4" stroke="#FF0000" stroke-width="2.9" stroke-linecap="round"/>
<line x1="1628.6" y1="159.7" x2="1833.6" y2="43.3" stroke="#FF0000" stroke-width="2.9" stroke-linecap="round"/>
<line x1="1628.6" y1="459.2" x2="1833.6" y2="585.6" stroke="#FF0000" stroke-width="2.9" stroke-linecap="round"/>
<text class="y" transform="translate(593.5 146.4) scale(1 1.045)" text-anchor="middle">1200</text>
<text class="y" transform="translate(590.1 287.6) scale(1 1.045)" text-anchor="middle">800</text>
<text class="y" transform="translate(589.7 428.8) scale(1 1.045)" text-anchor="middle">400</text>
<text class="y" transform="translate(591.2 569.4) scale(1 1.045)" text-anchor="middle">0</text>
<text class="t" transform="translate(750.5 616.6) scale(1 1.04)" text-anchor="middle">-1500</text>
<text class="t" transform="translate(896.2 616.6) scale(1 1.04)" text-anchor="middle">-1000</text>
<text class="t" transform="translate(1041.8 616.6) scale(1 1.04)" text-anchor="middle">-500</text>
<text class="t" transform="translate(1187.4 616.6) scale(1 1.04)" text-anchor="middle">0</text>
<text class="t" transform="translate(1333 616.6) scale(1 1.04)" text-anchor="middle">500</text>
<text class="t" transform="translate(1478.6 616.6) scale(1 1.04)" text-anchor="middle">1000</text>
<text class="t" transform="translate(1624.3 616.6) scale(1 1.04)" text-anchor="middle">1500</text>
<text class="l" transform="translate(1187.2 690.6) scale(1 1.04)" text-anchor="middle">Azimuth Frequency (Hz)</text>
<text class="l" transform="translate(512.6 304.6) rotate(-90) scale(1.008 1.03)" text-anchor="middle">Range (Samples)</text>
<text class="c" y="845.8"><tspan x="1095.8" dy="-1">(</tspan><tspan x="1119.7" dy="1" font-weight="bold">a</tspan><tspan x="1155.8" dy="-1">)</tspan></text>
</g>
<g id="panel-b">
<rect x="666" y="1020.3" width="1047.3" height="488.6" fill="#3E26A8"/>
<g clip-path="url(#cmb)">
<path d="M813 1132.5 C814.3 1133.1 817 1135.3 820.7 1136.3 C824.4 1137.4 832.6 1138.3 835 1138.7 L835 1140.3 C832.6 1140.7 824.4 1141.6 820.7 1142.7 C817 1143.7 814.3 1145.9 813 1146.5 Z" fill="#4a62f4" opacity="0.6" filter="url(#b2)"/>
<path d="M814 1139.5 C818.3 1139.8 825.7 1140.5 840 1141 C854.3 1141.5 873.3 1142.1 900 1142.2 C926.7 1142.3 966.7 1141.8 1000 1141.6 C1033.3 1141.4 1066.7 1141.2 1100 1141 C1133.3 1140.8 1173 1140.4 1200 1140.5 C1227 1140.6 1247 1141.3 1262 1141.5 C1277 1141.7 1278.5 1141.8 1290 1141.6 C1301.5 1141.4 1317.7 1140.9 1331 1140.5 C1344.3 1140.1 1355.2 1139.9 1370 1139.3 C1384.8 1138.7 1403.3 1137.9 1420 1136.8 C1436.7 1135.7 1453.5 1134.1 1470 1132.8 C1486.5 1131.5 1509.5 1129.7 1519 1129 C1528.5 1128.3 1525.7 1128.7 1527 1128.6" fill="none" stroke="url(#g22)" stroke-width="3.2" filter="url(#b15)" opacity="0.9"/>
<path d="M1360 1138.8 C1364.2 1138 1376.7 1135.4 1385 1134 C1393.3 1132.6 1400 1131.3 1410 1130.5 C1420 1129.7 1433.3 1129.3 1445 1128.9 C1456.7 1128.5 1467.7 1128.4 1480 1128.2 C1492.3 1128 1512.5 1127.9 1519 1127.8 L1519 1130 C1512.7 1130.5 1491.3 1132 1481 1133 C1470.7 1134 1467.2 1134.9 1457 1135.8 C1446.8 1136.7 1436.2 1137.5 1420 1138.2 C1403.8 1138.9 1370 1139.7 1360 1140 Z" fill="#3f80f6" filter="url(#b2)" opacity="0.9"/>
<path d="M814 1139.5 C818.3 1139.8 825.7 1140.5 840 1141 C854.3 1141.5 873.3 1142.1 900 1142.2 C926.7 1142.3 966.7 1141.8 1000 1141.6 C1033.3 1141.4 1066.7 1141.2 1100 1141 C1133.3 1140.8 1173 1140.4 1200 1140.5 C1227 1140.6 1247 1141.3 1262 1141.5 C1277 1141.7 1278.5 1141.8 1290 1141.6 C1301.5 1141.4 1317.7 1140.9 1331 1140.5 C1344.3 1140.1 1355.2 1139.9 1370 1139.3 C1384.8 1138.7 1403.3 1137.9 1420 1136.8 C1436.7 1135.7 1453.5 1134.1 1470 1132.8 C1486.5 1131.5 1509.5 1129.7 1519 1129 C1528.5 1128.3 1525.7 1128.7 1527 1128.6" fill="none" stroke="url(#g23)" stroke-width="2.1" filter="url(#b08)"/>
<path d="M814 1139.5 C818.3 1139.8 825.7 1140.5 840 1141 C854.3 1141.5 873.3 1142.1 900 1142.2 C926.7 1142.3 966.7 1141.8 1000 1141.6 C1033.3 1141.4 1066.7 1141.2 1100 1141 C1133.3 1140.8 1173 1140.4 1200 1140.5 C1227 1140.6 1247 1141.3 1262 1141.5 C1277 1141.7 1278.5 1141.8 1290 1141.6 C1301.5 1141.4 1317.7 1140.9 1331 1140.5 C1344.3 1140.1 1355.2 1139.9 1370 1139.3 C1384.8 1138.7 1403.3 1137.9 1420 1136.8 C1436.7 1135.7 1453.5 1134.1 1470 1132.8 C1486.5 1131.5 1509.5 1129.7 1519 1129 C1528.5 1128.3 1525.7 1128.7 1527 1128.6" fill="none" stroke="url(#g24)" stroke-width="1.1" filter="url(#b05)"/>
<path d="M1528 1123.6 C1527.4 1124.1 1526.2 1125.6 1524.5 1126.3 C1522.8 1127 1519.1 1127.6 1518 1127.8 L1518 1129.4 C1519.1 1129.6 1522.8 1130.1 1524.5 1130.8 C1526.2 1131.5 1527.4 1133.1 1528 1133.6 Z" fill="#4a62f4" opacity="0.4" filter="url(#b2)"/>
<path d="M813 1269.9 C814.3 1270.5 817 1272.7 820.7 1273.8 C824.4 1274.8 832.6 1275.7 835 1276.1 L835 1277.7 C832.6 1278.1 824.4 1279 820.7 1280.1 C817 1281.1 814.3 1283.3 813 1283.9 Z" fill="#4a62f4" opacity="0.6" filter="url(#b2)"/>
<path d="M814 1276.9 C818.3 1277.2 825.7 1278 840 1278.4 C854.3 1278.9 873.3 1279.5 900 1279.6 C926.7 1279.7 966.7 1279.2 1000 1279 C1033.3 1278.8 1066.7 1278.6 1100 1278.4 C1133.3 1278.2 1173 1277.8 1200 1277.9 C1227 1278 1247 1278.7 1262 1278.9 C1277 1279.1 1278.5 1279.2 1290 1279 C1301.5 1278.8 1317.7 1278.3 1331 1277.9 C1344.3 1277.5 1355.2 1277.3 1370 1276.7 C1384.8 1276.1 1403.3 1275.3 1420 1274.2 C1436.7 1273.1 1453.5 1271.5 1470 1270.2 C1486.5 1268.9 1509.5 1267.1 1519 1266.4 C1528.5 1265.7 1525.7 1266.1 1527 1266" fill="none" stroke="url(#g25)" stroke-width="3.2" filter="url(#b15)" opacity="0.9"/>
<path d="M1360 1276.2 C1364.2 1275.4 1376.7 1272.8 1385 1271.4 C1393.3 1270 1400 1268.8 1410 1267.9 C1420 1267.1 1433.3 1266.7 1445 1266.3 C1456.7 1265.9 1467.7 1265.8 1480 1265.6 C1492.3 1265.4 1512.5 1265.3 1519 1265.2 L1519 1267.4 C1512.7 1267.9 1491.3 1269.4 1481 1270.4 C1470.7 1271.4 1467.2 1272.3 1457 1273.2 C1446.8 1274.1 1436.2 1274.9 1420 1275.6 C1403.8 1276.3 1370 1277.1 1360 1277.4 Z" fill="#3f80f6" filter="url(#b2)" opacity="0.9"/>
<path d="M814 1276.9 C818.3 1277.2 825.7 1278 840 1278.4 C854.3 1278.9 873.3 1279.5 900 1279.6 C926.7 1279.7 966.7 1279.2 1000 1279 C1033.3 1278.8 1066.7 1278.6 1100 1278.4 C1133.3 1278.2 1173 1277.8 1200 1277.9 C1227 1278 1247 1278.7 1262 1278.9 C1277 1279.1 1278.5 1279.2 1290 1279 C1301.5 1278.8 1317.7 1278.3 1331 1277.9 C1344.3 1277.5 1355.2 1277.3 1370 1276.7 C1384.8 1276.1 1403.3 1275.3 1420 1274.2 C1436.7 1273.1 1453.5 1271.5 1470 1270.2 C1486.5 1268.9 1509.5 1267.1 1519 1266.4 C1528.5 1265.7 1525.7 1266.1 1527 1266" fill="none" stroke="url(#g26)" stroke-width="2.1" filter="url(#b08)"/>
<path d="M814 1276.9 C818.3 1277.2 825.7 1278 840 1278.4 C854.3 1278.9 873.3 1279.5 900 1279.6 C926.7 1279.7 966.7 1279.2 1000 1279 C1033.3 1278.8 1066.7 1278.6 1100 1278.4 C1133.3 1278.2 1173 1277.8 1200 1277.9 C1227 1278 1247 1278.7 1262 1278.9 C1277 1279.1 1278.5 1279.2 1290 1279 C1301.5 1278.8 1317.7 1278.3 1331 1277.9 C1344.3 1277.5 1355.2 1277.3 1370 1276.7 C1384.8 1276.1 1403.3 1275.3 1420 1274.2 C1436.7 1273.1 1453.5 1271.5 1470 1270.2 C1486.5 1268.9 1509.5 1267.1 1519 1266.4 C1528.5 1265.7 1525.7 1266.1 1527 1266" fill="none" stroke="url(#g27)" stroke-width="1.1" filter="url(#b05)"/>
<path d="M1528 1261 C1527.4 1261.5 1526.2 1263 1524.5 1263.8 C1522.8 1264.5 1519.1 1265 1518 1265.2 L1518 1266.8 C1519.1 1267 1522.8 1267.5 1524.5 1268.2 C1526.2 1269 1527.4 1270.5 1528 1271 Z" fill="#4a62f4" opacity="0.4" filter="url(#b2)"/>
<path d="M813 1400.5 C814.3 1401.1 817 1403.3 820.7 1404.3 C824.4 1405.4 832.6 1406.3 835 1406.7 L835 1408.3 C832.6 1408.7 824.4 1409.6 820.7 1410.7 C817 1411.7 814.3 1413.9 813 1414.5 Z" fill="#4a62f4" opacity="0.6" filter="url(#b2)"/>
<path d="M814 1407.5 C818.3 1407.8 825.7 1408.5 840 1409 C854.3 1409.5 873.3 1410.1 900 1410.2 C926.7 1410.3 966.7 1409.8 1000 1409.6 C1033.3 1409.4 1066.7 1409.2 1100 1409 C1133.3 1408.8 1173 1408.4 1200 1408.5 C1227 1408.6 1247 1409.3 1262 1409.5 C1277 1409.7 1278.5 1409.8 1290 1409.6 C1301.5 1409.4 1317.7 1408.9 1331 1408.5 C1344.3 1408.1 1355.2 1407.9 1370 1407.3 C1384.8 1406.7 1403.3 1405.9 1420 1404.8 C1436.7 1403.7 1453.5 1402.1 1470 1400.8 C1486.5 1399.5 1509.5 1397.7 1519 1397 C1528.5 1396.3 1525.7 1396.7 1527 1396.6" fill="none" stroke="url(#g28)" stroke-width="3.2" filter="url(#b15)" opacity="0.9"/>
<path d="M1360 1406.8 C1364.2 1406 1376.7 1403.4 1385 1402 C1393.3 1400.6 1400 1399.3 1410 1398.5 C1420 1397.7 1433.3 1397.3 1445 1396.9 C1456.7 1396.5 1467.7 1396.4 1480 1396.2 C1492.3 1396 1512.5 1395.9 1519 1395.8 L1519 1398 C1512.7 1398.5 1491.3 1400 1481 1401 C1470.7 1402 1467.2 1402.9 1457 1403.8 C1446.8 1404.7 1436.2 1405.5 1420 1406.2 C1403.8 1406.9 1370 1407.7 1360 1408 Z" fill="#3f80f6" filter="url(#b2)" opacity="0.9"/>
<path d="M814 1407.5 C818.3 1407.8 825.7 1408.5 840 1409 C854.3 1409.5 873.3 1410.1 900 1410.2 C926.7 1410.3 966.7 1409.8 1000 1409.6 C1033.3 1409.4 1066.7 1409.2 1100 1409 C1133.3 1408.8 1173 1408.4 1200 1408.5 C1227 1408.6 1247 1409.3 1262 1409.5 C1277 1409.7 1278.5 1409.8 1290 1409.6 C1301.5 1409.4 1317.7 1408.9 1331 1408.5 C1344.3 1408.1 1355.2 1407.9 1370 1407.3 C1384.8 1406.7 1403.3 1405.9 1420 1404.8 C1436.7 1403.7 1453.5 1402.1 1470 1400.8 C1486.5 1399.5 1509.5 1397.7 1519 1397 C1528.5 1396.3 1525.7 1396.7 1527 1396.6" fill="none" stroke="url(#g29)" stroke-width="2.1" filter="url(#b08)"/>
<path d="M814 1407.5 C818.3 1407.8 825.7 1408.5 840 1409 C854.3 1409.5 873.3 1410.1 900 1410.2 C926.7 1410.3 966.7 1409.8 1000 1409.6 C1033.3 1409.4 1066.7 1409.2 1100 1409 C1133.3 1408.8 1173 1408.4 1200 1408.5 C1227 1408.6 1247 1409.3 1262 1409.5 C1277 1409.7 1278.5 1409.8 1290 1409.6 C1301.5 1409.4 1317.7 1408.9 1331 1408.5 C1344.3 1408.1 1355.2 1407.9 1370 1407.3 C1384.8 1406.7 1403.3 1405.9 1420 1404.8 C1436.7 1403.7 1453.5 1402.1 1470 1400.8 C1486.5 1399.5 1509.5 1397.7 1519 1397 C1528.5 1396.3 1525.7 1396.7 1527 1396.6" fill="none" stroke="url(#g30)" stroke-width="1.1" filter="url(#b05)"/>
<path d="M1528 1391.6 C1527.4 1392.1 1526.2 1393.6 1524.5 1394.3 C1522.8 1395 1519.1 1395.6 1518 1395.8 L1518 1397.4 C1519.1 1397.6 1522.8 1398.1 1524.5 1398.8 C1526.2 1399.5 1527.4 1401.1 1528 1401.6 Z" fill="#4a62f4" opacity="0.4" filter="url(#b2)"/>
</g>
<line x1="665.2" y1="1018.7" x2="665.2" y2="1509.9" stroke="#5b5b66" stroke-width="1.6"/>
<line x1="664.4" y1="1509.7" x2="1714.7" y2="1509.7" stroke="#3f3f46" stroke-width="1.8"/>
<line x1="811.9" y1="1097.7" x2="811.9" y2="1454.4" stroke="#1f0f9c" stroke-width="2.7" stroke-dasharray="2.4 12.95" stroke-dashoffset="-10.2" filter="url(#b05)" opacity="0.6"/>
<line x1="811.9" y1="1097.7" x2="811.9" y2="1454.4" stroke="#fbfaff" stroke-width="2.7" stroke-linecap="round" stroke-dasharray="7.45 7.9" filter="url(#b05)"/>
<line x1="1535.3" y1="1097.7" x2="1535.3" y2="1454.4" stroke="#1f0f9c" stroke-width="2.7" stroke-dasharray="2.4 12.95" stroke-dashoffset="-10.2" filter="url(#b05)" opacity="0.6"/>
<line x1="1535.3" y1="1097.7" x2="1535.3" y2="1454.4" stroke="#fbfaff" stroke-width="2.7" stroke-linecap="round" stroke-dasharray="7.45 7.9" filter="url(#b05)"/>
<rect x="743.7" y="1124.4" width="126.9" height="302.5" fill="none" stroke="#FF0000" stroke-width="3.1"/>
<rect x="1331.5" y="1108.6" width="188.2" height="319.5" fill="none" stroke="#FF0000" stroke-width="3.1"/>
<rect x="23.4" y="1000.6" width="347.9" height="630.2" fill="#FF0000" rx="1.5"/>
<rect x="27.8" y="1005.1" width="339.5" height="622.5" fill="#3E26A8"/>
<g clip-path="url(#clinsetb)">
<path d="M223.8 1050.2 L202.2 1048.2 L195 1041.7 L199.1 1051.7 L195 1061.7 L202.2 1055.2 L223.8 1053.2 Z" fill="#4a55ee" opacity="0.5" filter="url(#b2)"/>
<path d="M200 1051.2 C206.7 1051.4 222.1 1052 240 1052.2 C257.9 1052.5 286.1 1052.5 307.3 1052.7 C328.5 1052.9 357.3 1053.1 367.3 1053.2" fill="none" stroke="url(#g31)" stroke-width="12" filter="url(#b3)" opacity="0.9"/>
<path d="M200 1051.2 C206.7 1051.4 222.1 1052 240 1052.2 C257.9 1052.5 286.1 1052.5 307.3 1052.7 C328.5 1052.9 357.3 1053.1 367.3 1053.2" fill="none" stroke="url(#g32)" stroke-width="6.5" filter="url(#b2)"/>
<path d="M223.8 1323.2 L202.2 1321.2 L195 1314.7 L199.1 1324.7 L195 1334.7 L202.2 1328.2 L223.8 1326.2 Z" fill="#4a55ee" opacity="0.5" filter="url(#b2)"/>
<path d="M200 1324.2 C206.7 1324.4 222.1 1325 240 1325.2 C257.9 1325.5 286.1 1325.5 307.3 1325.7 C328.5 1325.9 357.3 1326.1 367.3 1326.2" fill="none" stroke="url(#g33)" stroke-width="12" filter="url(#b3)" opacity="0.9"/>
<path d="M200 1324.2 C206.7 1324.4 222.1 1325 240 1325.2 C257.9 1325.5 286.1 1325.5 307.3 1325.7 C328.5 1325.9 357.3 1326.1 367.3 1326.2" fill="none" stroke="url(#g34)" stroke-width="6.5" filter="url(#b2)"/>
<path d="M223.8 1584.4 L202.2 1582.4 L195 1575.9 L199.1 1585.9 L195 1595.9 L202.2 1589.4 L223.8 1587.4 Z" fill="#4a55ee" opacity="0.5" filter="url(#b2)"/>
<path d="M200 1585.4 C206.7 1585.6 222.1 1586.2 240 1586.4 C257.9 1586.7 286.1 1586.7 307.3 1586.9 C328.5 1587.1 357.3 1587.3 367.3 1587.4" fill="none" stroke="url(#g35)" stroke-width="12" filter="url(#b3)" opacity="0.9"/>
<path d="M200 1585.4 C206.7 1585.6 222.1 1586.2 240 1586.4 C257.9 1586.7 286.1 1586.7 307.3 1586.9 C328.5 1587.1 357.3 1587.3 367.3 1587.4" fill="none" stroke="url(#g36)" stroke-width="6.5" filter="url(#b2)"/>
<line x1="195.4" y1="1005.1" x2="195.4" y2="1627.6" stroke="#2a17a2" stroke-width="15" filter="url(#b2)"/>
<line x1="195.4" y1="1006.1" x2="195.4" y2="1627.6" stroke="#dcd7f3" stroke-width="8.4" stroke-dasharray="19 11.75" stroke-dashoffset="13.3" filter="url(#b12)"/>
</g>
<rect x="1830.9" y="1012" width="444" height="605.9" fill="#FF0000" rx="1.5"/>
<rect x="1835.1" y="1016.7" width="436.5" height="597" fill="#3E26A8"/>
<g clip-path="url(#crinsetb)">
<path d="M1835.1 1093.5 C1845.9 1093.2 1871.8 1092.8 1900 1092 C1928.2 1091.2 1974 1089.7 2004 1088.5 C2034 1087.3 2057.3 1086.2 2080 1085 C2102.7 1083.8 2120 1082.8 2140 1081.5 C2160 1080.2 2178.1 1078.8 2200 1077 C2221.9 1075.2 2259.7 1072 2271.6 1071" fill="none" stroke="url(#g37)" stroke-width="10" filter="url(#b4)" opacity="0.75"/>
<path d="M1990 1087.5 C2000 1085.9 2029.5 1081.2 2050 1078 C2070.5 1074.8 2088 1070.4 2113 1068.5 C2138 1066.6 2173.6 1067 2200 1066.5 C2226.4 1066 2259.7 1065.7 2271.6 1065.5 L2271.6 1075 C2259.7 1075.6 2221.9 1077.2 2200 1078.5 C2178.1 1079.8 2160 1081.2 2140 1082.5 C2120 1083.8 2105 1084.8 2080 1086 C2055 1087.2 2005 1088.9 1990 1089.5 Z" fill="#3f80f6" filter="url(#b3)" opacity="0.95"/>
<path d="M1835.1 1093.5 C1845.9 1093.2 1871.8 1092.8 1900 1092 C1928.2 1091.2 1974 1089.7 2004 1088.5 C2034 1087.3 2057.3 1086.2 2080 1085 C2102.7 1083.8 2120 1082.8 2140 1081.5 C2160 1080.2 2178.1 1078.8 2200 1077 C2221.9 1075.2 2259.7 1072 2271.6 1071" fill="none" stroke="url(#g38)" stroke-width="5" filter="url(#b2)"/>
<path d="M1835.1 1093.9 L1871.1 1093.3" stroke="url(#g39)" stroke-width="4.2" fill="none" filter="url(#b1)"/>
<path d="M1835.1 1338.5 C1845.9 1338.2 1871.8 1337.8 1900 1337 C1928.2 1336.2 1974 1334.7 2004 1333.5 C2034 1332.3 2057.3 1331.2 2080 1330 C2102.7 1328.8 2120 1327.8 2140 1326.5 C2160 1325.2 2178.1 1323.8 2200 1322 C2221.9 1320.2 2259.7 1317 2271.6 1316" fill="none" stroke="url(#g40)" stroke-width="10" filter="url(#b4)" opacity="0.75"/>
<path d="M1990 1332.5 C2000 1330.9 2029.5 1326.2 2050 1323 C2070.5 1319.8 2088 1315.4 2113 1313.5 C2138 1311.6 2173.6 1312 2200 1311.5 C2226.4 1311 2259.7 1310.7 2271.6 1310.5 L2271.6 1320 C2259.7 1320.6 2221.9 1322.2 2200 1323.5 C2178.1 1324.8 2160 1326.2 2140 1327.5 C2120 1328.8 2105 1329.8 2080 1331 C2055 1332.2 2005 1333.9 1990 1334.5 Z" fill="#3f80f6" filter="url(#b3)" opacity="0.95"/>
<path d="M1835.1 1338.5 C1845.9 1338.2 1871.8 1337.8 1900 1337 C1928.2 1336.2 1974 1334.7 2004 1333.5 C2034 1332.3 2057.3 1331.2 2080 1330 C2102.7 1328.8 2120 1327.8 2140 1326.5 C2160 1325.2 2178.1 1323.8 2200 1322 C2221.9 1320.2 2259.7 1317 2271.6 1316" fill="none" stroke="url(#g41)" stroke-width="5" filter="url(#b2)"/>
<path d="M1835.1 1576.5 C1845.9 1576.2 1871.8 1575.8 1900 1575 C1928.2 1574.2 1974 1572.7 2004 1571.5 C2034 1570.3 2057.3 1569.2 2080 1568 C2102.7 1566.8 2120 1565.8 2140 1564.5 C2160 1563.2 2178.1 1561.8 2200 1560 C2221.9 1558.2 2259.7 1555 2271.6 1554" fill="none" stroke="url(#g42)" stroke-width="10" filter="url(#b4)" opacity="0.75"/>
<path d="M1990 1570.5 C2000 1568.9 2029.5 1564.2 2050 1561 C2070.5 1557.8 2088 1553.4 2113 1551.5 C2138 1549.6 2173.6 1550 2200 1549.5 C2226.4 1549 2259.7 1548.7 2271.6 1548.5 L2271.6 1558 C2259.7 1558.6 2221.9 1560.2 2200 1561.5 C2178.1 1562.8 2160 1564.2 2140 1565.5 C2120 1566.8 2105 1567.8 2080 1569 C2055 1570.2 2005 1571.9 1990 1572.5 Z" fill="#3f80f6" filter="url(#b3)" opacity="0.95"/>
<path d="M1835.1 1576.5 C1845.9 1576.2 1871.8 1575.8 1900 1575 C1928.2 1574.2 1974 1572.7 2004 1571.5 C2034 1570.3 2057.3 1569.2 2080 1568 C2102.7 1566.8 2120 1565.8 2140 1564.5 C2160 1563.2 2178.1 1561.8 2200 1560 C2221.9 1558.2 2259.7 1555 2271.6 1554" fill="none" stroke="url(#g43)" stroke-width="5" filter="url(#b2)"/>
<path d="M1847.1 1576.9 L1897.1 1576.3" stroke="url(#g44)" stroke-width="4.2" fill="none" filter="url(#b1)"/>
</g>
<line x1="369.8" y1="1002.1" x2="743.7" y2="1124.4" stroke="#FF0000" stroke-width="2.9" stroke-linecap="round"/>
<line x1="369.8" y1="1629.3" x2="743.7" y2="1427" stroke="#FF0000" stroke-width="2.9" stroke-linecap="round"/>
<line x1="1519.7" y1="1108.6" x2="1832.4" y2="1013.5" stroke="#FF0000" stroke-width="2.9" stroke-linecap="round"/>
<line x1="1519.7" y1="1428.1" x2="1832.4" y2="1616.4" stroke="#FF0000" stroke-width="2.9" stroke-linecap="round"/>
<text class="y" transform="translate(595.5 1105.6) scale(1 1.045)" text-anchor="middle">1200</text>
<text class="y" transform="translate(592.3 1247.6) scale(1 1.045)" text-anchor="middle">800</text>
<text class="y" transform="translate(591.7 1388.7) scale(1 1.045)" text-anchor="middle">400</text>
<text class="y" transform="translate(593.3 1528.5) scale(1 1.045)" text-anchor="middle">0</text>
<text class="t" transform="translate(752.7 1576) scale(1 1.04)" text-anchor="middle">-1500</text>
<text class="t" transform="translate(898.4 1576) scale(1 1.04)" text-anchor="middle">-1000</text>
<text class="t" transform="translate(1044.1 1576) scale(1 1.04)" text-anchor="middle">-500</text>
<text class="t" transform="translate(1189.8 1576) scale(1 1.04)" text-anchor="middle">0</text>
<text class="t" transform="translate(1335.5 1576) scale(1 1.04)" text-anchor="middle">500</text>
<text class="t" transform="translate(1481.2 1576) scale(1 1.04)" text-anchor="middle">1000</text>
<text class="t" transform="translate(1626.9 1576) scale(1 1.04)" text-anchor="middle">1500</text>
<text class="l" transform="translate(1189.5 1650.2) scale(1 1.04)" text-anchor="middle">Azimuth Frequency (Hz)</text>
<text class="l" transform="translate(515.4 1265.4) rotate(-90) scale(1.008 1.03)" text-anchor="middle">Range (Samples)</text>
<text class="c" y="1804.3"><tspan x="1091.7" dy="-1">(</tspan><tspan x="1116.9" dy="1" font-weight="bold">b</tspan><tspan x="1159.9" dy="-1">)</tspan></text>
</g>
</svg>
</body></html>
